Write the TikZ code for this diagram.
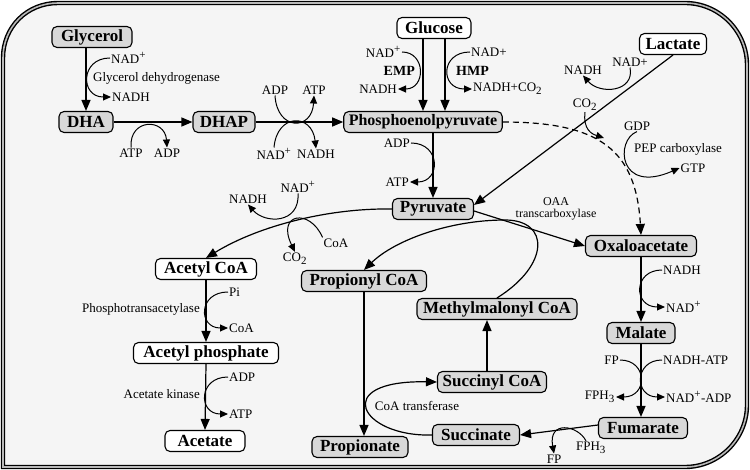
\documentclass[tikz,border=0pt]{standalone}
\usepackage{fontspec}
\setmainfont{Liberation Serif}
\usetikzlibrary{arrows.meta}
\definecolor{boxgray}{RGB}{216,216,216}
\definecolor{bggray}{RGB}{245,245,245}
\newcommand{\nadp}{NAD\textsuperscript{\fontsize{11}{11}\selectfont +}}
\newcommand{\lo}[1]{\textsubscript{\fontsize{11}{11}\selectfont #1}}
\tikzset{
 met/.style={draw,line width=1.1pt,rounded corners=5pt,fill=white,
  font=\fontsize{17}{19}\selectfont\bfseries,inner xsep=5pt,inner ysep=0pt,minimum height=21pt},
 metg/.style={met,fill=boxgray},
 lbl/.style={font=\fontsize{13}{15}\selectfont,inner sep=1pt},
 route/.style={font=\fontsize{14}{16}\selectfont\bfseries,inner sep=1pt},
 flow/.style={line width=1.2pt,-{Triangle[length=11pt,width=9pt]}},
 cof/.style={line width=1pt,-{Triangle[length=8pt,width=7pt]}},
 frame/.style={line width=1.4pt,double=gray!55,double distance=1.6pt}
}
\begin{document}
\begin{tikzpicture}[x=1pt,y=-1pt]
\useasboundingbox (0,0) rectangle (750,470);
\fill[bggray] (3,467) -- (3,58) .. controls (3,27) and (27,3) .. (58,3) -- (685,3)
 .. controls (719,3) and (747,31) .. (747,65) -- (747,405)
 .. controls (747,439) and (719,467) .. (685,467) -- cycle;
\draw[frame] (3,467) -- (3,58) .. controls (3,27) and (27,3) .. (58,3) -- (685,3)
 .. controls (719,3) and (747,31) .. (747,65) -- (747,405)
 .. controls (747,439) and (719,467) .. (685,467) -- cycle;

\node[metg,minimum width=80pt] (gly) at (92,37) {Glycerol};
\node[metg,minimum width=54pt] (dha) at (86,122) {DHA};
\node[metg,minimum width=62pt] (dhap) at (224,122) {DHAP};
\node[metg,font=\fontsize{16}{18}\selectfont\bfseries] (pep) at (423,122) {Phosphoenolpyruvate};
\node[met,minimum width=74pt] (glc) at (434,28) {Glucose};
\node[met,minimum width=67pt] (lac) at (673,44) {Lactate};
\node[metg,minimum width=81pt] (pyr) at (433,209) {Pyruvate};
\node[metg,minimum width=111pt] (oaa) at (641,246) {Oxaloacetate};
\node[met,minimum width=101pt] (accoa) at (206,269) {Acetyl CoA};
\node[metg,minimum width=125pt] (propcoa) at (364,281) {Propionyl CoA};
\node[metg,minimum width=160pt] (mmcoa) at (497,309) {Methylmalonyl CoA};
\node[metg,minimum width=68pt] (mal) at (641,333) {Malate};
\node[met,minimum width=145pt] (acp) at (206,353) {Acetyl phosphate};
\node[metg,minimum width=109pt] (succoa) at (492,382) {Succinyl CoA};
\node[metg,minimum width=89pt] (fum) at (643,428) {Fumarate};
\node[metg,minimum width=87pt] (succ) at (476,435) {Succinate};
\node[met,minimum width=80pt] (acet) at (205,441) {Acetate};
\node[metg,minimum width=96pt] (propn) at (360,447) {Propionate};

\node[lbl,anchor=west] (nadA) at (110,58) {\nadp};
\node[lbl,anchor=west] (nadhA) at (111,97) {NADH};
\node[lbl,anchor=west] (gdh) at (92,78) {Glycerol dehydrogenase};
\node[lbl] (atpA) at (131,153) {ATP};
\node[lbl] (adpA) at (167,153) {ADP};
\node[lbl] (adpB) at (275,90) {ADP};
\node[lbl] (atpB) at (314,90) {ATP};
\node[lbl] (nadB) at (274,154) {\nadp};
\node[lbl] (nadhB) at (316,154) {NADH};
\node[lbl,anchor=east] (nadC) at (402,52) {\nadp};
\node[lbl,anchor=east] (nadhC) at (398,89) {NADH};
\node[route,anchor=east] (emp) at (416,71) {EMP};
\node[lbl,anchor=west] (nadD) at (470,52) {NAD+};
\node[lbl,anchor=west] (nadhD) at (472,89) {NADH+CO\lo{2}};
\node[route,anchor=west] (hmp) at (455,71) {HMP};
\node[lbl] (nadE) at (630,62) {NAD+};
\node[lbl] (nadhE) at (583,70) {NADH};
\node[lbl] (co2A) at (585,105) {CO\lo{2}};
\coordinate (co2end) at (604,138);
\node[lbl] (gdp) at (637,126) {GDP};
\node[lbl,anchor=west] (pepc) at (633,149) {PEP carboxylase};
\node[lbl] (gtp) at (693,168) {GTP};
\node[lbl,anchor=east] (adpF) at (411,143) {ADP};
\node[lbl,anchor=east] (atpF) at (410,182) {ATP};
\node[lbl] (nadG) at (298,187) {\nadp};
\node[lbl] (nadhG) at (248,199) {NADH};
\node[lbl] (coaG) at (336,243) {CoA};
\node[lbl] (co2G) at (295,259) {CO\lo{2}};
\node[lbl,align=center,font=\fontsize{12}{12}\selectfont] (oaat) at (556,209) {OAA\\transcarboxylase};
\node[lbl,anchor=west] (nadhH) at (662,270) {NADH};
\node[lbl,anchor=west] (nadH) at (665,307) {\nadp};
\node[lbl,anchor=east] (fpI) at (620,360) {FP};
\node[lbl,anchor=east] (fph3I) at (616,397) {FPH\lo{3}};
\node[lbl,anchor=west] (nadhatp) at (662,360) {NADH-ATP};
\node[lbl,anchor=west] (nadadp) at (665,397) {\nadp-ADP};
\node[lbl] (fph3J) at (591,448) {FPH\lo{3}};
\node[lbl] (fpJ) at (554,459) {FP};
\node[lbl] (coat) at (417,406) {CoA transferase};
\node[lbl,anchor=west] (piK) at (228,292) {Pi};
\node[lbl,anchor=west] (coaK) at (228,328) {CoA};
\node[lbl,anchor=east] (ptase) at (201,309) {Phosphotransacetylase};
\node[lbl,anchor=west] (adpL) at (228,377) {ADP};
\node[lbl,anchor=west] (atpL) at (228,414) {ATP};
\node[lbl,anchor=east] (akin) at (201,394) {Acetate kinase};

\draw[flow] (gly.south -| dha.north) -- (dha.north);
\draw[cof] (nadA.west) .. controls (80,58) and (80,97) .. (nadhA.west);
\draw[flow] (dha) -- (dhap);
\draw[cof] (atpA.north) .. controls (129,118) and (165,118) .. (adpA.north);
\draw[flow] (dhap) -- (pep);
\draw[cof] (adpB.south) .. controls (277,131) and (312,131) .. (atpB.south);
\draw[cof] (nadB.north) .. controls (277,113) and (312,113) .. (nadhB.north);
\draw[flow] ([xshift=-11pt]glc.south) -- ([xshift=-11pt]glc.south |- pep.north);
\draw[flow] ([xshift=11pt]glc.south) -- ([xshift=11pt]glc.south |- pep.north);
\draw[cof] (nadC.east) .. controls (426,52) and (426,89) .. (nadhC.east);
\draw[cof] (nadD.west) .. controls (440,52) and (440,89) .. (nadhD.west);
\draw[flow] (lac.south) -- ([yshift=4pt]pyr.east);
\draw[cof] (nadE.south) .. controls (635,92) and (600,95) .. (nadhE.south);
\draw[cof] (co2A.south) .. controls (583,130) and (592,134) .. (co2end);
\draw[flow,dash pattern=on 6pt off 4pt] (pep.east) .. controls (600,122) and (636,150) .. (oaa.north);
\draw[cof] (gdp.south) .. controls (615,140) and (618,195) .. (gtp.west);
\draw[flow] (pep.south -| pyr.north) -- (pyr.north);
\draw[cof] (adpF.east) .. controls (441,143) and (441,182) .. (atpF.east);
\draw[flow] (pyr.west) .. controls (330,208) and (260,225) .. (accoa.north);
\draw[cof] (nadG.south) .. controls (300,224) and (265,224) .. (nadhG.south);
\draw[cof] (coaG.north west) .. controls (310,208) and (276,213) .. (co2G.north);
\draw[flow] ([yshift=-2pt]pyr.east) -- (oaa.west);
\draw[flow] (mmcoa.north) .. controls (550,265) and (550,220) .. (505,220)
 .. controls (450,220) and (395,240) .. (propcoa.north);
\draw[flow] (propcoa.south) -- (propcoa.south |- propn.north);
\draw[flow] ([xshift=-5pt]succoa.north) -- ([xshift=-5pt]succoa.north |- mmcoa.south);
\draw[flow] (succ.west) .. controls (360,437) and (330,380) .. (succoa.west);
\draw[flow] ([yshift=3pt]fum.west) -- (succ.east);
\draw[cof] ([xshift=-5pt]fph3J.north) .. controls (578,425) and (548,420) .. (fpJ.north);
\draw[flow] (oaa.south) -- (mal.north);
\draw[cof] (nadhH.west) .. controls (633,270) and (633,307) .. (nadH.west);
\draw[flow] (mal.south) -- (mal.south |- fum.north);
\draw[cof] (fpI.east) .. controls (648,360) and (648,397) .. (fph3I.east);
\draw[cof] (nadhatp.west) .. controls (634,360) and (634,397) .. (nadadp.west);
\draw[flow] (accoa.south) -- (acp.north);
\draw[cof] (piK.west) .. controls (198,292) and (198,328) .. (coaK.west);
\draw[flow] (acp.south) -- (acet.north);
\draw[cof] (adpL.west) .. controls (198,377) and (198,414) .. (atpL.west);
\end{tikzpicture}
\end{document}
